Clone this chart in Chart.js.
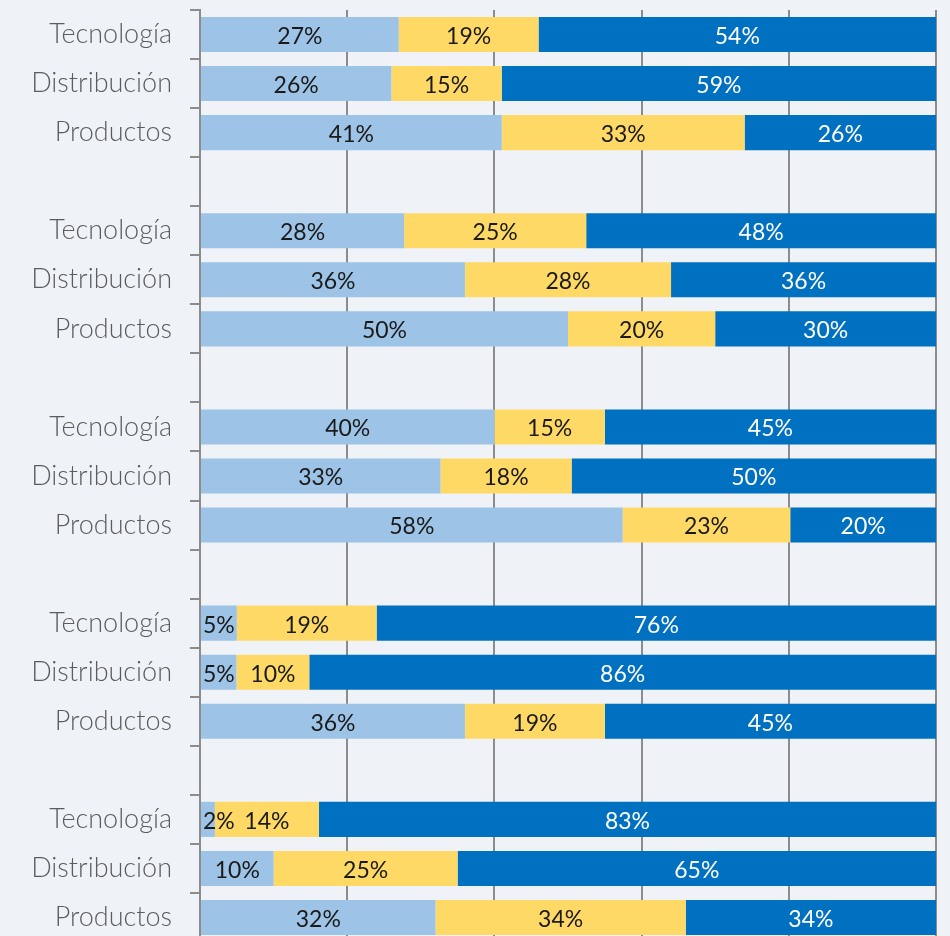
<!DOCTYPE html>
<html>
<head>
<meta charset="utf-8">
<script src="https://cdn.jsdelivr.net/npm/chart.js@4"></script>
<style>
  html, body { margin: 0; padding: 0; background: #eff3f8; overflow: hidden; }
  #wrap { width: 950px; height: 945px; }
</style>
</head>
<body>
<div id="wrap"><canvas id="chart"></canvas></div>
<script>
// rows: 5 groups of 3, blank row between groups
const categories = [
  'Tecnología', 'Distribución', 'Productos', '',
  'Tecnología', 'Distribución', 'Productos', '',
  'Tecnología', 'Distribución', 'Productos', '',
  'Tecnología', 'Distribución', 'Productos', '',
  'Tecnología', 'Distribución', 'Productos',
]
const lightValues = [27, 26, 41, null, 28, 36, 50, null, 40, 33, 58, null, 5, 5, 36, null, 2, 10, 32]
const yellowValues = [19, 15, 33, null, 25, 28, 20, null, 15, 18, 23, null, 19, 10, 19, null, 14, 25, 34]
const darkValues = [54, 59, 26, null, 48, 36, 30, null, 45, 50, 20, null, 76, 86, 45, null, 83, 65, 34]
const xTicks = [0, 20, 40, 60, 80, 100]

const LIGHT = '#9dc3e6'
const YELLOW = '#ffd966'
const DARK = '#0070c0'
const GRID = '#8c8c8c'

// 100% stacked: bar length is the share of the row total
const share = (vals, i) => {
  const tot = (lightValues[i] || 0) + (yellowValues[i] || 0) + (darkValues[i] || 0)
  return vals[i] == null ? null : vals[i] / tot * 100
}
const mkData = vals => vals.map((v, i) => share(vals, i))

const series = [
  { raw: lightValues, color: LIGHT, text: '#1a1a1a' },
  { raw: yellowValues, color: YELLOW, text: '#1a1a1a' },
  { raw: darkValues, color: DARK, text: '#ffffff' },
]

// draws the % label in each segment
const segmentLabels = {
  id: 'segmentLabels',
  afterDatasetsDraw(chart) {
    const ctx = chart.ctx
    ctx.save()
    ctx.font = '23px Lato'
    ctx.textBaseline = 'middle'
    ctx.textAlign = 'left'
    chart.data.datasets.forEach((ds, di) => {
      const meta = chart.getDatasetMeta(di)
      meta.data.forEach((bar, i) => {
        const v = series[di].raw[i]
        if (v == null) return
        const txt = v + '%'
        const w = ctx.measureText(txt).width
        const left = Math.min(bar.base, bar.x)
        const mid = (bar.base + bar.x) / 2
        ctx.fillStyle = series[di].text
        ctx.fillText(txt, Math.max(left + 2, mid - w / 2), bar.y + 2)
      })
    })
    ctx.restore()
  },
}

const config = {
  type: 'bar',
  data: {
    labels: categories,
    datasets: series.map(s => ({
      data: mkData(s.raw),
      backgroundColor: s.color,
      borderWidth: 0,
      categoryPercentage: 1,
      barPercentage: 0.715,
    })),
  },
  options: {
    indexAxis: 'y',
    responsive: true,
    maintainAspectRatio: false,
    animation: false,
    layout: { padding: { top: 10, right: 14, bottom: 3, left: 0 } },
    plugins: {
      legend: { display: false },
      tooltip: { enabled: false },
    },
    scales: {
      x: {
        stacked: true,
        min: 0,
        max: 100,
        afterBuildTicks: axis => {
          axis.ticks = xTicks.map(v => ({ value: v }))
        },
        ticks: { display: false },
        grid: { color: GRID, lineWidth: 2, drawTicks: false },
        border: { display: false },
        afterFit: axis => {
          axis.height = 0
          axis.paddingLeft = 0
          axis.paddingRight = 0
        },
      },
      y: {
        stacked: true,
        grid: {
          offset: true,
          drawOnChartArea: false,
          drawTicks: true,
          tickLength: 10,
          color: GRID,
          lineWidth: 2,
        },
        border: { color: GRID, width: 2 },
        ticks: {
          color: '#5c5c5c',
          font: { family: 'Lato', size: 27, weight: '300' },
          padding: 18,
          autoSkip: false,
        },
        afterFit: axis => {
          axis.width = 200
          axis.paddingTop = 0
          axis.paddingBottom = 0
        },
      },
    },
  },
  plugins: [segmentLabels],
}

const chart = new Chart(document.getElementById('chart').getContext('2d'), config)
</script>
</body>
</html>
